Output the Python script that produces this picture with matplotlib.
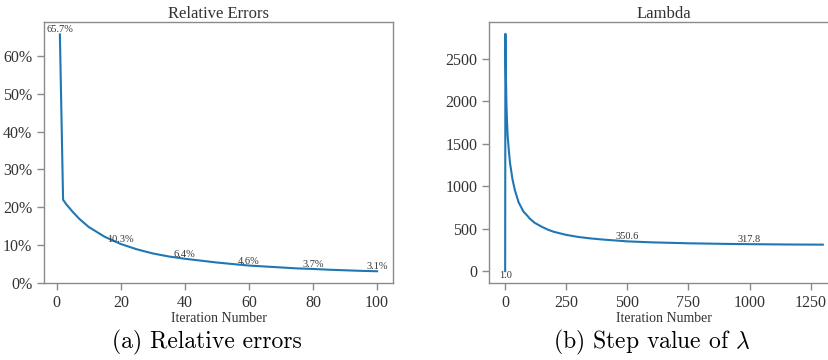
import numpy as np
import matplotlib
matplotlib.use("Agg")
import matplotlib.pyplot as plt
from matplotlib.ticker import PercentFormatter

plt.rcParams["font.family"] = ["Liberation Serif", "DejaVu Serif"]
plt.rcParams["mathtext.fontset"] = "cm"

# relative error (%)
err_iter = [1, 2, 3, 5, 7, 10, 15, 20, 25, 30, 35, 40, 45, 50, 55, 60,
            65, 70, 75, 80, 85, 90, 95, 100]
err_vals = [65.7, 22.0, 20.8, 18.8, 17.0, 14.8, 12.2, 10.3, 8.9, 7.8, 7.0, 6.4,
            5.9, 5.4, 5.0, 4.6, 4.35, 4.1, 3.85, 3.7, 3.5, 3.35, 3.2, 3.1]
err_lbl_iter = [1, 20, 40, 60, 80, 100]
err_lbl_vals = [65.7, 10.3, 6.4, 4.6, 3.7, 3.1]

# lambda step value
lam_iter = [0, 1, 3, 5, 7, 10, 15, 20, 30, 40, 55, 75, 90, 100, 120, 150,
            175, 200, 250, 300, 350, 400, 500, 600, 750, 900, 1000, 1150,
            1300]
lam_vals = [1.0, 2791, 2300, 2000, 1800, 1600, 1420, 1270, 1080, 950, 810,
            700, 655, 620, 570, 522, 488, 462, 427, 402, 385, 372, 350.6, 339,
            328, 321, 317.8, 314, 312]
lam_lbl_iter = [0, 500, 1000]
lam_lbl_vals = [1.0, 350.6, 317.8]

TXT = "#333333"
SPINE = "#8a8a8a"

fig = plt.figure(figsize=(8.29, 3.6), dpi=100)
ax1 = fig.add_axes([0.0531, 0.214, 0.4209, 0.725])
ax2 = fig.add_axes([0.5902, 0.214, 0.4215, 0.725])

for ax in (ax1, ax2):
    for s in ax.spines.values():
        s.set_color(SPINE)
        s.set_linewidth(1.0)
    ax.tick_params(direction="out", length=5, width=1, color=SPINE,
                   labelcolor=TXT, labelsize=11.5)
    ax.set_xlabel("Iteration Number", fontsize=10, color=TXT, labelpad=1)

ax1.plot(err_iter, err_vals, color="#1f77b4", lw=1.5)
for x, v in zip(err_lbl_iter, err_lbl_vals):
    ax1.text(x, v, f"{v}%", ha="center", va="bottom", fontsize=7.5, color=TXT)
ax1.set_ylim(0, 69)
ax1.set_yticks(range(0, 61, 10))
ax1.yaxis.set_major_formatter(PercentFormatter(decimals=0))
ax1.set_xticks(range(0, 101, 20))
ax1.set_title("Relative Errors", fontsize=12, color=TXT, pad=3)

ax2.plot(lam_iter, lam_vals, color="#1f77b4", lw=1.5)
for x, v in zip(lam_lbl_iter, lam_lbl_vals):
    va = "top" if v < 10 else "bottom"
    ax2.text(x, v, f"{v}", ha="center", va=va, fontsize=7.5, color=TXT)
ax2.set_yticks(range(0, 2501, 500))
ax2.set_xticks(range(0, 1251, 250))
ax2.set_title("Lambda", fontsize=12, color=TXT, pad=3)

fig.text(0.2497, 0.05, "(a) Relative errors", family="cmr10",
         fontsize=17, ha="center", va="center")
fig.text(0.7865, 0.05, r"(b) Step value of $\lambda$", family="cmr10",
         fontsize=17, ha="center", va="center")

fig.savefig("out.png", dpi=100)
